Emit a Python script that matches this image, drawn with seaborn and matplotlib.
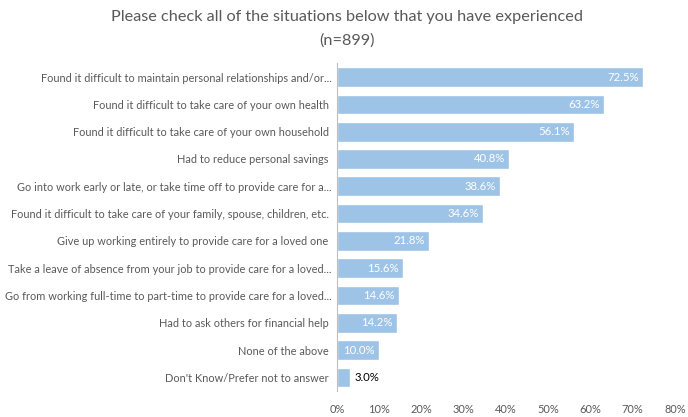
import numpy as np
import pandas as pd
import seaborn as sns
import matplotlib.pyplot as plt
from matplotlib.ticker import PercentFormatter

situations = [
    "Found it difficult to maintain personal relationships and/or...",
    "Found it difficult to take care of your own health ",
    "Found it difficult to take care of your own household ",
    "Had to reduce personal savings ",
    "Go into work early or late, or take time off to provide care for a...",
    "Found it difficult to take care of your family, spouse, children, etc. ",
    "Give up working entirely to provide care for a loved one ",
    "Take a leave of absence from your job to provide care for a loved...",
    "Go from working full-time to part-time to provide care for a loved...",
    "Had to ask others for financial help ",
    "None of the above ",
    "Don't Know/Prefer not to answer ",
]
pct = [72.5, 63.2, 56.1, 40.8, 38.6, 34.6, 21.8, 15.6, 14.6, 14.2, 10.0, 3.0]

df = pd.DataFrame({"situation": situations, "pct": pct})

sns.set_style("white")
plt.rcParams['font.family'] = ['Lato', 'DejaVu Sans']

fig = plt.figure(figsize=(6.88, 4.17), dpi=100)
ax = fig.add_axes([0.49, 0.062, 0.491, 0.786])

sns.barplot(data=df, x="pct", y="situation", color="#9DC3E6", width=0.72,
            saturation=1, ax=ax)

ax.set_xlim(0, 80)
ax.set_xticks(range(0, 90, 10))
ax.xaxis.set_major_formatter(PercentFormatter(decimals=0))
ax.set_xlabel("")
ax.set_ylabel("")
ax.tick_params(axis="both", length=0, colors="#595959", labelsize=7.9)
ax.tick_params(axis="x", pad=9)
ax.tick_params(axis="y", pad=4)

for s in ["top", "right", "bottom"]:
    ax.spines[s].set_visible(False)
ax.spines["left"].set_color("#BFBFBF")

for i, v in enumerate(pct):
    if v < 5:
        ax.text(v + 1.2, i, f"{v:.1f}%", va="center", ha="left",
                color="black", fontsize=8.2)
    else:
        ax.text(v - 1.0, i, f"{v:.1f}%", va="center", ha="right",
                color="white", fontsize=8.2)

fig.text(0.505, 0.959, "Please check all of the situations below that you have experienced",
         ha="center", va="center", fontsize=11.7, color="#595959")
fig.text(0.505, 0.902, "(n=899)", ha="center", va="center", fontsize=11.7, color="#595959")

fig.savefig("out.png", dpi=100)
